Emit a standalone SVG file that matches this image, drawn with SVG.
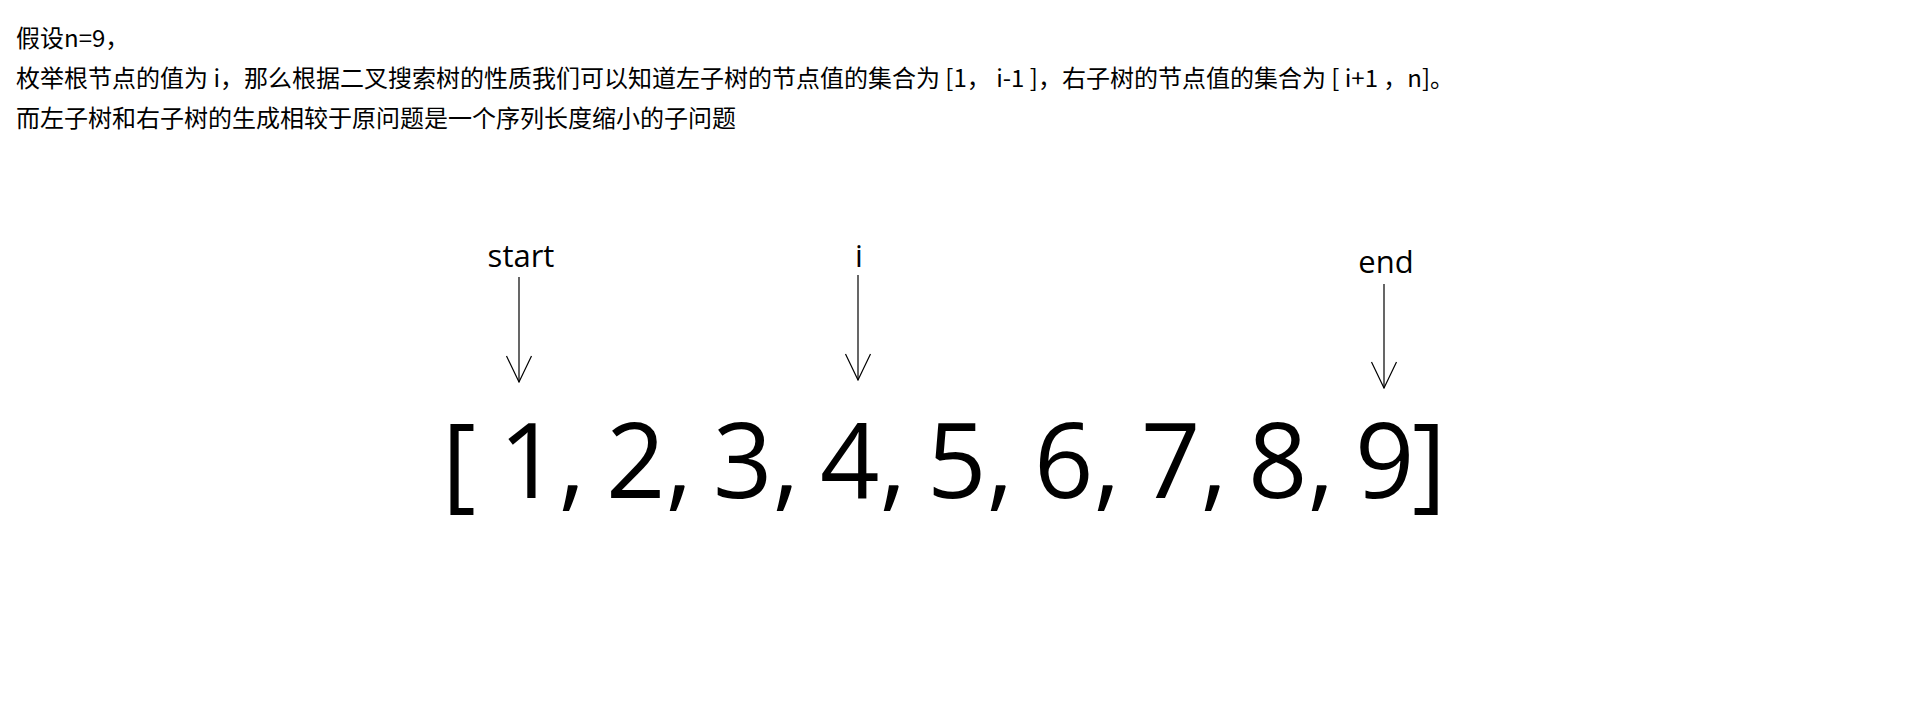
<svg xmlns="http://www.w3.org/2000/svg" width="1912" height="722" viewBox="0 0 1912 722">
<style>
.desc{font-family:"Noto Sans CJK SC","Noto Sans",sans-serif;font-size:24px;fill:#000}
.lbl{font-family:"Open Sans","Noto Sans",sans-serif;font-size:31px;fill:#000;text-anchor:middle}
.big{font-family:"Open Sans","Noto Sans",sans-serif;font-size:104px;fill:#000}
.arr{stroke:#000;stroke-width:1.2;fill:none;marker-end:url(#vhead)}
</style>
<defs>
<marker id="vhead" markerUnits="userSpaceOnUse" viewBox="-1 -14 28 28" refX="26" refY="0" markerWidth="28" markerHeight="28" orient="auto">
<path d="M0 -12.5 L26 0 L0 12.5" fill="none" stroke="#000" stroke-width="1.2"/>
</marker>
</defs>
<rect width="1912" height="722" fill="#fff"/>
<g id="description">
<text class="desc" x="16" y="47">假设n=9，</text>
<text class="desc" x="16" y="87">枚举根节点的值为 i，那么根据二叉搜索树的性质我们可以知道左子树的节点值的集合为 [1，  i-1 ]，右子树的节点值的集合为 [ i+1 ，n]。</text>
<text class="desc" x="16" y="127">而左子树和右子树的生成相较于原问题是一个序列长度缩小的子问题</text>
</g>
<g id="label-start"><text class="lbl" x="521" y="267">start</text></g>
<g id="label-i"><text class="lbl" x="859" y="267">i</text></g>
<g id="label-end"><text class="lbl" x="1386" y="273">end</text></g>
<g id="array">
<text class="big" y="498"><tspan x="442">[</tspan><tspan x="499">1,</tspan><tspan x="606">2,</tspan><tspan x="713">3,</tspan><tspan x="820">4,</tspan><tspan x="927">5,</tspan><tspan x="1034">6,</tspan><tspan x="1141">7,</tspan><tspan x="1248">8,</tspan><tspan x="1355">9</tspan><tspan x="1412">]</tspan></text>
</g>
<g id="connectors">
<path class="arr" d="M519 277 V382"/>
<path class="arr" d="M858 275 V380"/>
<path class="arr" d="M1384 284 V388"/>
</g>
</svg>
